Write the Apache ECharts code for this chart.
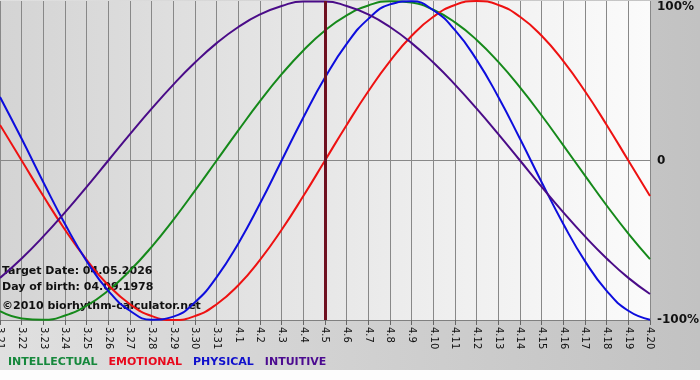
<!DOCTYPE html>
<html><head><meta charset="utf-8">
<script src="https://cdn.jsdelivr.net/npm/echarts@6/dist/echarts.min.js"></script>
<style>html,body{margin:0;padding:0;background:#fff}#c{width:700px;height:380px}</style>
</head><body><div id="c"></div>
<script>
var categories = ['3.21','3.22','3.23','3.24','3.25','3.26','3.27','3.28','3.29','3.30','3.31','4.1','4.2','4.3','4.4','4.5','4.6','4.7','4.8','4.9','4.10','4.11','4.12','4.13','4.14','4.15','4.16','4.17','4.18','4.19','4.20'];
var intellectual = [-94.5,-99.0,-99.9,-97.2,-91.0,-81.5,-69.0,-54.1,-37.2,-18.9,0,18.9,37.2,54.1,69.0,81.5,91.0,97.2,99.9,99.0,94.5,86.6,75.6,61.8,45.8,28.2,9.5,-9.5,-28.2,-45.8,-61.8];
var emotional = [22.3,0,-22.3,-43.4,-62.3,-78.2,-90.1,-97.5,-100,-97.5,-90.1,-78.2,-62.3,-43.4,-22.3,0,22.3,43.4,62.3,78.2,90.1,97.5,100,97.5,90.1,78.2,62.3,43.4,22.3,0,-22.3];
var physical = [39.8,13.6,-13.6,-39.8,-63.1,-81.7,-94.2,-99.8,-97.9,-88.8,-73.1,-52.0,-27.0,0,27.0,52.0,73.1,88.8,97.9,99.8,94.2,81.7,63.1,39.8,13.6,-13.6,-39.8,-63.1,-81.7,-94.2,-99.8];
var intuitive = [-73.6,-61.4,-47.6,-32.5,-16.5,0,16.5,32.5,47.6,61.4,73.6,83.7,91.6,96.9,99.7,99.7,96.9,91.6,83.7,73.6,61.4,47.6,32.5,16.5,0,-16.5,-32.5,-47.6,-61.4,-73.6,-83.7];
var seriesNames = ['INTELLECTUAL','EMOTIONAL','PHYSICAL','INTUITIVE'];
var targetDay = '4.5';
var infoLines = ['Target Date: 04.05.2026','Day of birth: 04.09.1978','©2010 biorhythm-calculator.net'];

var colors = ['#15891a','#ee1111','#0d0ddd','#4a0c88'];
var legendColors = ['#16883c','#e8081c','#1010cc','#4b0a90'];
var font = 'DejaVu Sans';
var seriesData = [intellectual, emotional, physical, intuitive];

var chart = echarts.init(document.getElementById('c'));
var series = seriesNames.map(function(n, i){
  var s = {
    name: n, type: 'line', data: seriesData[i], smooth: true, showSymbol: false,
    lineStyle: {color: colors[i], width: 2}, itemStyle: {color: colors[i]}, animation: false
  };
  if (i === 3) {
    s.markLine = {
      silent: true, symbol: ['none','none'], label: {show: false},
      lineStyle: {color: '#6e1020', width: 3, type: 'solid'},
      data: [{xAxis: targetDay}]
    };
  }
  return s;
});

chart.setOption({
  animation: false,
  backgroundColor: new echarts.graphic.LinearGradient(0,0,1,0,[{offset:0,color:'#e0e0e0'},{offset:1,color:'#c2c2c2'}]),
  grid: {left: 0, right: 50, top: 1, bottom: 60, show: true, borderWidth: 0, containLabel: false,
    outerBoundsMode: 'none',
    backgroundColor: new echarts.graphic.LinearGradient(0,0,1,0,[{offset:0,color:'#d4d4d4'},{offset:1,color:'#fbfbfb'}])},
  legend: {
    left: 3, top: 357, icon: 'none', itemWidth: 0, itemHeight: 0, itemGap: 6, padding: 0,
    selectedMode: false,
    textStyle: {fontFamily: font, fontWeight: 'bold', fontSize: 11},
    data: seriesNames.map(function(n,i){ return {name: n, textStyle: {color: legendColors[i]}}; })
  },
  xAxis: {
    type: 'category', data: categories, boundaryGap: false,
    axisLine: {show: true, onZero: false, lineStyle: {color: '#808080', width: 1}},
    axisTick: {show: true, length: 5, alignWithLabel: true, lineStyle: {color: '#666'}},
    axisLabel: {rotate: -90, interval: 0, fontSize: 10, fontFamily: font, color: '#111', margin: 7},
    splitLine: {show: true, interval: 0, lineStyle: {color: '#888', width: 1}}
  },
  yAxis: {
    type: 'value', position: 'right', min: -100, max: 100, interval: 100,
    axisLine: {show: false}, axisTick: {show: false},
    axisLabel: {fontFamily: font, fontWeight: 'bold', fontSize: 12, color: '#111', margin: 7,
      verticalAlignMaxLabel: 'top',
      formatter: function(v){ return v === 0 ? '0' : v + '%'; }},
    splitLine: {show: true, lineStyle: {color: ['rgba(0,0,0,0)','#888','rgba(0,0,0,0)'], width: 1}}
  },
  graphic: [
    {type: 'rect', left: 0, top: 370, shape: {width: 700, height: 10}, style: {fill: '#fdfdfd'}, silent: true},
    {type: 'text', left: 2, top: 266, z: 1, style: {text: infoLines[0], font: 'bold 11px "DejaVu Sans"', fill: '#111'}},
    {type: 'text', left: 2, top: 282, z: 1, style: {text: infoLines[1], font: 'bold 11px "DejaVu Sans"', fill: '#111'}},
    {type: 'text', left: 2, top: 301, z: 1, style: {text: infoLines[2], font: 'bold 11px "DejaVu Sans"', fill: '#111'}}
  ],
  series: series
});
</script></body></html>
